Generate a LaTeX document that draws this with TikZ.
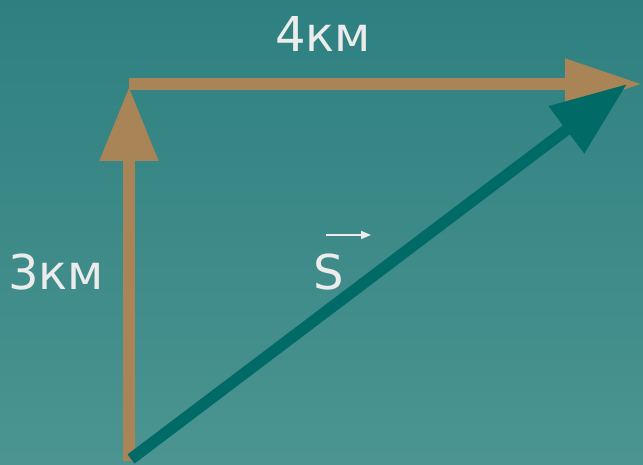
\documentclass[tikz,border=0pt]{standalone}
\usepackage{fontspec}
\setmainfont{DejaVu Sans}
\usetikzlibrary{arrows.meta}
\definecolor{bgtop}{HTML}{2E8080}
\definecolor{bgbot}{HTML}{4B9491}
\definecolor{tan}{HTML}{A88457}
\definecolor{deepteal}{HTML}{006B66}
\definecolor{txt}{HTML}{ECECEC}
\begin{document}
\begin{tikzpicture}[x=1pt,y=-1pt,
  vec/.style={line width=11.5pt},
  lbl/.style={text=txt,font=\fontsize{48}{58}\selectfont,inner sep=0pt,anchor=base}]
\useasboundingbox (0,0) rectangle (643,465);
\shade[top color=bgtop,bottom color=bgbot] (0,0) rectangle (643,465);
\coordinate (O) at (129,461);
\coordinate (A) at (129,87);
\coordinate (H0) at (129,84);
\coordinate (B) at (642,84);
\coordinate (T0) at (131,459);
\coordinate (C) at (627,84);
\draw[vec,tan,-{Triangle[length=74pt,width=56pt]}] (O) -- (A);
\draw[vec,tan,-{Triangle[length=77pt,width=48pt]}] (H0) -- (B);
\draw[vec,deepteal,-{Triangle[length=76pt,width=56pt]}] (T0) -- (C);
\node[lbl] (l4) at (323,52) {4км};
\node[lbl] (l3) at (56,290) {3км};
\node[lbl] (s) at (329,290) {S};
\coordinate (s1) at (326,235);
\coordinate (s2) at (371,235);
\draw[txt,line width=1.6pt,-{Triangle[length=10pt,width=8pt]}] (s1) -- (s2);
\end{tikzpicture}
\end{document}
